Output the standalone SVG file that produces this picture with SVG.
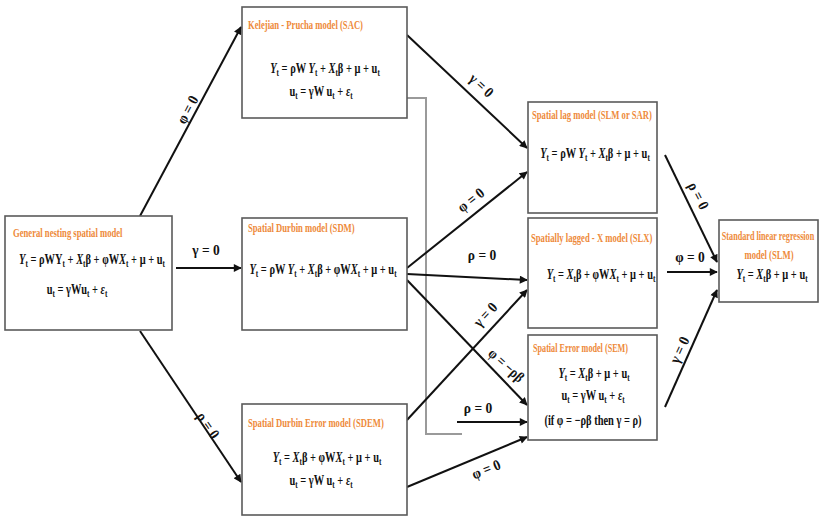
<svg xmlns="http://www.w3.org/2000/svg" width="824" height="519" viewBox="0 0 824 519">
<defs>
  <marker id="ah" viewBox="0 0 10 10" refX="9" refY="5" markerWidth="9" markerHeight="8" markerUnits="userSpaceOnUse" orient="auto">
    <path d="M0,0 L10,5 L0,10 z" fill="#111"/>
  </marker>
</defs>
<style>
  .box { fill: #fff; stroke: #5a5a5a; stroke-width: 1.6; }
  .ttl { font-family: "Liberation Serif", serif; font-weight: bold; font-size: 12px; fill: #ee8a3a; }
  .eq { font-family: "Liberation Serif", serif; font-weight: bold; font-size: 14.5px; fill: #111; }
  .i { font-style: italic; }
  .sb { font-size: 10px; }
  .lbl { font-family: "Liberation Serif", serif; font-weight: bold; font-size: 15px; fill: #111; }
  .cn { stroke: #111; stroke-width: 2; fill: none; marker-end: url(#ah); }
  .gr { stroke: #9a9a9a; stroke-width: 2; fill: none; }
</style>
<rect width="824" height="519" fill="#fff"/>

<!-- connectors -->
<g id="connectors">
  <polyline class="gr" points="407,98 426,98 426,434 462,434"/>
  <line class="cn" x1="140" y1="216" x2="241" y2="27"/>
  <line class="cn" x1="176" y1="268" x2="241" y2="268"/>
  <line class="cn" x1="140" y1="331" x2="241" y2="482"/>
  <line class="cn" x1="407" y1="35" x2="527" y2="148"/>
  <line class="cn" x1="407" y1="268" x2="527" y2="172"/>
  <line class="cn" x1="407" y1="274" x2="527" y2="280"/>
  <line class="cn" x1="407" y1="280" x2="527" y2="405"/>
  <line class="cn" x1="407" y1="420" x2="527" y2="290"/>
  <line class="cn" x1="457" y1="422" x2="527" y2="422"/>
  <line class="cn" x1="407" y1="487" x2="527" y2="437"/>
  <line class="cn" x1="665" y1="155" x2="717" y2="262"/>
  <line class="cn" x1="667" y1="272" x2="717" y2="272"/>
  <line class="cn" x1="665" y1="407" x2="717" y2="290"/>

  <text class="lbl" text-anchor="middle" transform="translate(192,112) rotate(-62) scale(0.9,1)">φ = 0</text>
  <text class="lbl" text-anchor="middle" transform="translate(206,255) scale(0.9,1)">γ = 0</text>
  <text class="lbl" text-anchor="middle" transform="translate(204,428) rotate(56) scale(0.9,1)">ρ = 0</text>
  <text class="lbl" text-anchor="middle" transform="translate(478,89) rotate(43) scale(0.9,1)">γ = 0</text>
  <text class="lbl" text-anchor="middle" transform="translate(474,204) rotate(-38) scale(0.9,1)">φ = 0</text>
  <text class="lbl" text-anchor="middle" transform="translate(482,260) scale(0.9,1)">ρ = 0</text>
  <text class="lbl" text-anchor="middle" transform="translate(503,369) rotate(42) scale(0.85,1)">φ = −ρβ</text>
  <text class="lbl" text-anchor="middle" transform="translate(489,318) rotate(-47) scale(0.9,1)">γ = 0</text>
  <text class="lbl" text-anchor="middle" transform="translate(478,413) scale(0.9,1)">ρ = 0</text>
  <text class="lbl" text-anchor="middle" transform="translate(488,474) rotate(-22) scale(0.9,1)">φ = 0</text>
  <text class="lbl" text-anchor="middle" transform="translate(694,198) rotate(63) scale(0.9,1)">ρ = 0</text>
  <text class="lbl" text-anchor="middle" transform="translate(690,262) scale(0.9,1)">φ = 0</text>
  <text class="lbl" text-anchor="middle" transform="translate(684,352) rotate(-65) scale(0.9,1)">γ = 0</text>
</g>

<!-- General nesting spatial model -->
<g id="gns">
  <rect class="box" x="5" y="216" width="167" height="114"/>
  <text class="ttl" transform="translate(13,237) scale(0.72,1)">General nesting spatial model</text>
  <text class="eq" text-anchor="middle" transform="translate(92,264) scale(0.72,1)"><tspan class="i">Y</tspan><tspan class="sb" dy="3">t</tspan><tspan dy="-3"> = ρWY</tspan><tspan class="sb" dy="3">t</tspan><tspan dy="-3"> + </tspan><tspan class="i">X</tspan><tspan class="sb" dy="3">t</tspan><tspan dy="-3">β + φW</tspan><tspan class="i">X</tspan><tspan class="sb" dy="3">t</tspan><tspan dy="-3"> + μ + u</tspan><tspan class="sb" dy="3">t</tspan></text>
  <text class="eq" text-anchor="middle" transform="translate(77,294) scale(0.72,1)">u<tspan class="sb" dy="3">t</tspan><tspan dy="-3"> = γWu</tspan><tspan class="sb" dy="3">t</tspan><tspan dy="-3"> + </tspan><tspan class="i">ε</tspan><tspan class="sb" dy="3">t</tspan></text>
</g>

<!-- Kelejian - Prucha model (SAC) -->
<g id="sac">
  <rect class="box" x="242" y="7" width="165" height="111"/>
  <text class="ttl" transform="translate(248,29) scale(0.72,1)">Kelejian - Prucha model (SAC)</text>
  <text class="eq" text-anchor="middle" transform="translate(325,73) scale(0.72,1)"><tspan class="i">Y</tspan><tspan class="sb" dy="3">t</tspan><tspan dy="-3"> = ρW </tspan><tspan class="i">Y</tspan><tspan class="sb" dy="3">t</tspan><tspan dy="-3"> + </tspan><tspan class="i">X</tspan><tspan class="sb" dy="3">t</tspan><tspan dy="-3">β + μ + u</tspan><tspan class="sb" dy="3">t</tspan></text>
  <text class="eq" text-anchor="middle" transform="translate(321,96) scale(0.72,1)">u<tspan class="sb" dy="3">t</tspan><tspan dy="-3"> = γW u</tspan><tspan class="sb" dy="3">t</tspan><tspan dy="-3"> + </tspan><tspan class="i">ε</tspan><tspan class="sb" dy="3">t</tspan></text>
</g>

<!-- Spatial Durbin model (SDM) -->
<g id="sdm">
  <rect class="box" x="242" y="218" width="165" height="112"/>
  <text class="ttl" transform="translate(248,232) scale(0.72,1)">Spatial Durbin model (SDM)</text>
  <text class="eq" text-anchor="middle" transform="translate(323,274) scale(0.72,1)"><tspan class="i">Y</tspan><tspan class="sb" dy="3">t</tspan><tspan dy="-3"> = ρW </tspan><tspan class="i">Y</tspan><tspan class="sb" dy="3">t</tspan><tspan dy="-3"> + </tspan><tspan class="i">X</tspan><tspan class="sb" dy="3">t</tspan><tspan dy="-3">β + φW</tspan><tspan class="i">X</tspan><tspan class="sb" dy="3">t</tspan><tspan dy="-3"> + μ + u</tspan><tspan class="sb" dy="3">t</tspan></text>
</g>

<!-- Spatial Durbin Error model (SDEM) -->
<g id="sdem">
  <rect class="box" x="242" y="404" width="165" height="111"/>
  <text class="ttl" transform="translate(248,427) scale(0.72,1)">Spatial Durbin Error model (SDEM)</text>
  <text class="eq" text-anchor="middle" transform="translate(327,462) scale(0.72,1)"><tspan class="i">Y</tspan><tspan class="sb" dy="3">t</tspan><tspan dy="-3"> =  </tspan><tspan class="i">X</tspan><tspan class="sb" dy="3">t</tspan><tspan dy="-3">β + φW</tspan><tspan class="i">X</tspan><tspan class="sb" dy="3">t</tspan><tspan dy="-3"> + μ + u</tspan><tspan class="sb" dy="3">t</tspan></text>
  <text class="eq" text-anchor="middle" transform="translate(321,485) scale(0.72,1)">u<tspan class="sb" dy="3">t</tspan><tspan dy="-3"> = γW u</tspan><tspan class="sb" dy="3">t</tspan><tspan dy="-3"> + </tspan><tspan class="i">ε</tspan><tspan class="sb" dy="3">t</tspan></text>
</g>

<!-- Spatial lag model (SLM or SAR) -->
<g id="slm-sar">
  <rect class="box" x="528" y="102" width="129" height="111"/>
  <text class="ttl" transform="translate(532,119) scale(0.72,1)">Spatial lag model (SLM or SAR)</text>
  <text class="eq" text-anchor="middle" transform="translate(595,158) scale(0.72,1)"><tspan class="i">Y</tspan><tspan class="sb" dy="3">t</tspan><tspan dy="-3"> = ρW </tspan><tspan class="i">Y</tspan><tspan class="sb" dy="3">t</tspan><tspan dy="-3"> + </tspan><tspan class="i">X</tspan><tspan class="sb" dy="3">t</tspan><tspan dy="-3">β + μ + u</tspan><tspan class="sb" dy="3">t</tspan></text>
</g>

<!-- Spatially lagged - X model (SLX) -->
<g id="slx">
  <rect class="box" x="528" y="218" width="129" height="110"/>
  <text class="ttl" transform="translate(531,242) scale(0.72,1)">Spatially lagged - X model (SLX)</text>
  <text class="eq" text-anchor="middle" transform="translate(601,279) scale(0.72,1)"><tspan class="i">Y</tspan><tspan class="sb" dy="3">t</tspan><tspan dy="-3"> =  </tspan><tspan class="i">X</tspan><tspan class="sb" dy="3">t</tspan><tspan dy="-3">β + φW</tspan><tspan class="i">X</tspan><tspan class="sb" dy="3">t</tspan><tspan dy="-3"> + μ + u</tspan><tspan class="sb" dy="3">t</tspan></text>
</g>

<!-- Spatial Error model (SEM) -->
<g id="sem">
  <rect class="box" x="528" y="335" width="129" height="105"/>
  <text class="ttl" transform="translate(533,352) scale(0.68,1)">Spatial Error model (SEM)</text>
  <text class="eq" text-anchor="middle" transform="translate(594,378) scale(0.72,1)"><tspan class="i">Y</tspan><tspan class="sb" dy="3">t</tspan><tspan dy="-3"> =  </tspan><tspan class="i">X</tspan><tspan class="sb" dy="3">t</tspan><tspan dy="-3">β + μ + u</tspan><tspan class="sb" dy="3">t</tspan></text>
  <text class="eq" text-anchor="middle" transform="translate(593,400) scale(0.72,1)">u<tspan class="sb" dy="3">t</tspan><tspan dy="-3"> = γW u</tspan><tspan class="sb" dy="3">t</tspan><tspan dy="-3"> + </tspan><tspan class="i">ε</tspan><tspan class="sb" dy="3">t</tspan></text>
  <text class="eq" text-anchor="middle" transform="translate(593,425) scale(0.72,1)">(if  φ = −ρβ  then  γ = ρ)</text>
</g>

<!-- Standard linear regression model (SLM) -->
<g id="slm-std">
  <rect class="box" x="719" y="220" width="99" height="82"/>
  <text class="ttl" text-anchor="middle" transform="translate(768,240) scale(0.68,1)">Standard linear regression</text>
  <text class="ttl" text-anchor="middle" transform="translate(769,259) scale(0.72,1)">model (SLM)</text>
  <text class="eq" text-anchor="middle" transform="translate(772,279) scale(0.72,1)"><tspan class="i">Y</tspan><tspan class="sb" dy="3">t</tspan><tspan dy="-3"> = </tspan><tspan class="i">X</tspan><tspan class="sb" dy="3">t</tspan><tspan dy="-3">β + μ + u</tspan><tspan class="sb" dy="3">t</tspan></text>
</g>
</svg>
